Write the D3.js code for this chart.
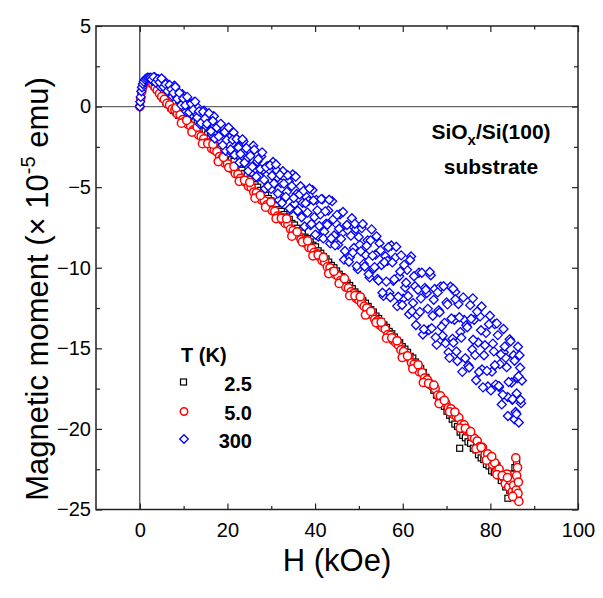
<!DOCTYPE html>
<html>
<head>
<meta charset="utf-8">
<title>SiOx/Si(100) substrate M-H</title>
<script src="https://cdn.jsdelivr.net/npm/d3@7"></script>
<style>
  html, body { margin: 0; padding: 0; background: #fff; overflow: hidden; }
  svg { display: block; }
  text { font-family: 'Liberation Sans', Arial, sans-serif; fill: #000; }
</style>
</head>
<body>
<svg width="603" height="598" id="mainsvg"></svg>
<script>
// tick labels
const xTicks = [0, 20, 40, 60, 80, 100];
const xMinor = [10, 30, 50, 70, 90];
const yTicks = [-25, -20, -15, -10, -5, 0, 5];
const yMinor = [-22.5, -17.5, -12.5, -7.5, -2.5, 2.5];
const temps = ['2.5', '5.0', '300'];

// T = 2.5 K  [H (kOe), M (1e-5 emu)]
const t25 = [
  [0.1,0.2],[0.3,0.75],[0.5,1.05],[0.8,1.3],[1.1,1.5],[1.4,1.58],[1.8,1.6],[2.3,1.52],[2.8,1.42],[3.3,1.25],
  [3.8,1.05],[4.3,0.88],[4.8,0.68],[5.3,0.5],[5.9,0.3],[6.5,0.12],[7.1,-0.08],[7.7,-0.25],[8.3,-0.38],[8.9,-0.55],
  [9.5,-0.7],[10.1,-0.85],[10.7,-0.95],[11.3,-1.05],[11.9,-1.0],[12.5,-0.9],[13.1,-1.0],[13.7,-1.2],[14.3,-1.35],[14.9,-1.5],
  [15.5,-1.7],[16.1,-1.85],[16.7,-2.05],[17.3,-2.2],[17.9,-2.35],[18.5,-2.55],[19.1,-2.7],[19.7,-2.95],[20.3,-3.05],[20.9,-3.3],
  [21.5,-3.4],[22.1,-3.65],[22.7,-3.8],[23.3,-3.95],[23.9,-4.15],[24.5,-4.3],[25.1,-4.5],[25.7,-4.65],[26.3,-4.85],[26.9,-5.0],
  [27.5,-5.2],[28.1,-5.35],[28.7,-5.5],[29.3,-5.7],[29.9,-5.85],[30.5,-6.05],[31.1,-6.15],[31.7,-6.4],[32.3,-6.5],[32.9,-6.7],
  [33.5,-6.85],[34.1,-7.0],[34.7,-7.25],[35.3,-7.35],[35.9,-7.55],[36.5,-7.7],[37.1,-7.85],[37.7,-8.1],[38.3,-8.2],[38.9,-8.4],
  [39.5,-8.6],[40.1,-8.7],[40.7,-8.95],[41.3,-9.1],[41.9,-9.3],[42.5,-9.45],[43.1,-9.65],[43.7,-9.85],[44.3,-10.0],[44.9,-10.2],
  [45.5,-10.4],[46.1,-10.55],[46.7,-10.75],[47.3,-10.95],[47.9,-11.1],[48.5,-11.3],[49.1,-11.5],[49.7,-11.65],[50.3,-11.85],[50.9,-12.05],
  [51.5,-12.2],[52.1,-12.4],[52.7,-12.6],[53.3,-12.75],[53.9,-13.0],[54.5,-13.15],[55.1,-13.35],[55.7,-13.55],[56.3,-13.7],[56.9,-13.95],
  [57.5,-14.1],[58.1,-14.3],[58.7,-14.5],[59.3,-14.65],[59.9,-14.9],[60.5,-15.05],[61.1,-15.25],[61.7,-15.5],[62.3,-15.6],[62.9,-15.85],
  [63.5,-16.05],[64.1,-16.25],[64.7,-16.5],[65.3,-16.8],[65.9,-17.1],[66.5,-17.3],[67.1,-17.6],[67.7,-17.9],[68.3,-18.1],[68.9,-18.35],
  [69.5,-18.6],[70.1,-18.9],[70.7,-19.15],[71.3,-19.4],[71.9,-19.7],[72.5,-19.85],[73.1,-20.2],[73.0,-21.2],[73.7,-20.4],[74.3,-20.55],
  [74.9,-20.8],[75.5,-20.9],[76.1,-21.2],[76.7,-21.3],[77.3,-21.6],[77.9,-21.8],[78.5,-21.9],[79.1,-22.2],[79.7,-22.3],[80.3,-22.6],
  [80.9,-22.7],[81.5,-22.3],[82.0,-22.9],[82.5,-23.2],[83.0,-23.0],[83.5,-23.6],[84.0,-24.3],[84.4,-23.8],[84.8,-23.4],[85.2,-22.8],
  [85.6,-22.4],[86.0,-22.1],[85.4,-23.1]
];

// T = 5.0 K
const t50 = [
  [0.0,0.0],[0.2,0.5],[0.4,0.9],[0.6,1.15],[0.9,1.4],[1.2,1.55],[1.6,1.62],[2.0,1.58],[2.5,1.5],[3.0,1.38],
  [3.5,1.2],[4.0,1.02],[4.5,0.8],[5.0,0.62],[5.6,0.45],[6.2,0.2],[6.8,0.1],[7.4,-0.15],[8.0,-0.2],[8.6,-0.45],
  [9.2,-0.5],[9.8,-0.8],[10.4,-0.9],[11.0,-1.1],[11.6,-1.2],[12.2,-1.45],[12.8,-1.5],[13.4,-1.75],[14.0,-1.85],[14.6,-2.0],
  [15.2,-2.25],[15.8,-2.3],[16.4,-2.6],[17.0,-2.7],[17.6,-2.8],[18.2,-3.1],[18.8,-3.2],[19.4,-3.5],[20.0,-3.55],[20.6,-3.8],
  [21.2,-3.9],[21.8,-4.15],[22.4,-4.2],[23.0,-4.45],[23.6,-4.6],[24.2,-4.7],[24.8,-4.95],[25.4,-5.0],[26.0,-5.3],[26.6,-5.35],
  [27.2,-5.6],[27.8,-5.8],[28.4,-5.85],[29.0,-6.1],[29.6,-6.15],[30.2,-6.45],[30.8,-6.5],[31.4,-6.8],[32.0,-6.85],[32.6,-7.05],
  [33.2,-7.25],[33.8,-7.3],[34.4,-7.6],[35.0,-7.7],[35.6,-7.9],[36.2,-8.0],[36.8,-8.25],[37.4,-8.35],[38.0,-8.5],[38.6,-8.75],
  [39.2,-8.8],[39.8,-9.05],[40.4,-9.15],[41.0,-9.3],[41.6,-9.55],[42.2,-9.65],[42.8,-9.95],[43.4,-10.0],[44.0,-10.25],[44.6,-10.4],
  [45.2,-10.5],[45.8,-10.8],[46.4,-10.85],[47.0,-11.2],[47.6,-11.25],[48.2,-11.5],[48.8,-11.6],[49.4,-11.9],[50.0,-12.0],[50.6,-12.2],
  [51.2,-12.4],[51.8,-12.5],[52.4,-12.85],[53.0,-12.9],[53.6,-13.2],[54.2,-13.3],[54.8,-13.55],[55.4,-13.7],[56.0,-13.8],[56.6,-14.15],
  [57.2,-14.2],[57.8,-14.5],[58.4,-14.65],[59.0,-14.8],[59.6,-15.1],[60.2,-15.2],[60.8,-15.5],[61.4,-15.55],[62.0,-15.9],[62.6,-16.0],
  [63.2,-16.2],[63.8,-16.45],[64.4,-16.5],[65.0,-16.85],[65.6,-16.95],[66.2,-17.2],[66.8,-17.35],[67.4,-17.5],[68.0,-17.9],[68.6,-17.95],
  [69.2,-18.3],[69.8,-18.4],[70.4,-18.7],[71.0,-18.75],[71.6,-19.1],[72.2,-19.2],[72.8,-19.3],[73.4,-19.7],[74.0,-19.75],[74.6,-20.1],
  [75.2,-20.15],[75.8,-20.5],[76.4,-20.6],[77.0,-20.75],[77.6,-21.1],[78.2,-21.15],[78.8,-21.6],[79.4,-21.55],[80.0,-21.9],[80.5,-22.2],
  [81.0,-22.1],[81.5,-22.6],[82.0,-22.5],[82.5,-22.9],[83.0,-23.0],[83.4,-23.4],[83.8,-22.8],[84.2,-23.6],[84.6,-23.2],[85.0,-23.9],
  [85.3,-23.5],[85.6,-24.1],[85.9,-23.8],[86.1,-24.3],[86.3,-24.0],[86.5,-24.5],[85.8,-21.8],[86.2,-22.4],[86.0,-22.9],[86.4,-23.3],
  [8.3,-0.08],[9.5,-1.03],[10.7,-0.85],[11.9,-1.58],[13.1,-1.27],[14.3,-2.3],[15.5,-2.29],[16.7,-2.33],[17.9,-3.41],[19.1,-3.15],
  [20.3,-3.78],[21.5,-3.71],[22.7,-4.64],[23.9,-4.57],[25.1,-4.7],[26.3,-5.68],[27.5,-5.51],[28.7,-6.24],[29.9,-5.92],[31.1,-6.95],
  [32.3,-6.93],[33.5,-6.96],[34.7,-8.04],[35.9,-7.77],[37.1,-8.4],[38.3,-8.33],[39.5,-9.26],[40.7,-9.21],[41.9,-9.36],[43.1,-10.36],
  [44.3,-10.22],[45.5,-10.97],[46.7,-10.68],[47.9,-11.73],[49.1,-11.73],[50.3,-11.8],[51.5,-12.93],[52.7,-12.71],[53.9,-13.4],[55.1,-13.38],
  [56.3,-14.37],[57.5,-14.35],[58.7,-14.53],[59.9,-15.57],[61.1,-15.47],[62.3,-16.27],[63.5,-16.02],[64.7,-17.12],[65.9,-17.18],[67.1,-17.28],
  [68.3,-18.43],[69.5,-18.23],[70.7,-18.94],[71.9,-18.95],[73.1,-19.95],[74.3,-19.96],[75.5,-20.17],[76.7,-21.23],[77.9,-21.14],[79.1,-21.94],
  [80.3,-21.71],[81.5,-22.83],[82.7,-22.9],[83.9,-23.02],[85.1,-24.19]
];

// T = 300 K
const t300 = [
  [0.0,0.0],[0.1,0.3],[0.2,0.6],[0.35,0.95],[0.5,1.2],[0.7,1.4],[0.9,1.55],[1.2,1.68],[1.5,1.75],[1.8,1.8],[2.1,1.78],
  [2.5,1.79],[2.95,1.59],[3.4,1.83],[3.85,1.57],[4.3,1.70],[4.75,1.22],[5.2,1.42],[5.65,1.57],[6.1,1.06],[6.55,1.10],
  [7.0,1.24],[7.45,0.64],[7.9,1.29],[8.35,0.61],[8.8,0.74],[9.25,0.26],[9.7,0.77],[10.15,0.31],[10.6,-0.31],[11.05,0.31],
  [11.5,0.15],[11.95,-0.51],[12.4,0.28],[12.85,-0.45],[13.3,-0.08],[13.75,-1.10],[14.2,-0.60],[14.65,-0.26],[15.1,-1.20],[15.55,-1.05],
  [16.0,-0.75],[16.45,-1.75],[16.9,-0.60],[17.35,-1.66],[17.8,-1.37],[18.25,-2.08],[18.7,-1.21],[19.15,-1.85],[19.6,-2.74],[20.05,-1.74],
  [20.5,-1.93],[20.95,-2.85],[21.4,-1.61],[21.85,-2.65],[22.3,-2.06],[22.75,-3.47],[23.2,-2.70],[23.65,-2.16],[24.1,-3.45],[24.55,-3.19],
  [25.0,-2.73],[25.45,-4.07],[25.9,-2.43],[26.35,-3.86],[26.8,-3.41],[27.25,-4.33],[27.7,-3.10],[28.15,-3.92],[28.6,-5.09],[29.05,-3.70],
  [29.5,-3.91],[29.95,-5.11],[30.4,-3.44],[30.85,-4.78],[31.3,-3.96],[31.75,-5.80],[32.2,-4.74],[32.65,-4.01],[33.1,-5.67],[33.55,-5.29],
  [34.0,-4.65],[34.45,-6.38],[34.9,-4.21],[35.35,-6.03],[35.8,-5.42],[36.25,-6.57],[36.7,-4.94],[37.15,-5.97],[37.6,-7.44],[38.05,-5.62],
  [38.5,-5.85],[38.95,-7.36],[39.4,-5.18],[39.85,-6.86],[40.3,-5.79],[40.75,-8.06],[41.2,-6.69],[41.65,-5.75],[42.1,-7.76],[42.55,-7.26],
  [43.0,-6.45],[43.45,-8.49],[43.9,-5.87],[44.35,-8.00],[44.8,-7.26],[45.25,-8.57],[45.7,-6.68],[46.15,-7.85],[46.6,-9.50],[47.05,-7.43],
  [47.5,-7.68],[47.95,-9.35],[48.4,-6.93],[48.85,-8.77],[49.3,-7.60],[49.75,-10.09],[50.2,-8.58],[50.65,-7.54],[51.1,-9.76],[51.55,-9.21],
  [52.0,-8.30],[52.45,-10.60],[52.9,-7.62],[53.35,-10.05],[53.8,-9.19],[54.25,-10.70],[54.7,-8.48],[55.15,-9.83],[55.6,-11.75],[56.05,-9.29],
  [56.5,-9.57],[56.95,-11.55],[57.4,-8.62],[57.85,-10.81],[58.3,-9.37],[58.75,-12.38],[59.2,-10.53],[59.65,-9.23],[60.1,-11.92],[60.55,-11.23],
  [61.0,-10.13],[61.45,-12.88],[61.9,-9.30],[62.35,-12.19],[62.8,-11.15],[63.25,-12.94],[63.7,-10.31],[64.15,-11.90],[64.6,-14.14],[65.05,-11.25],
  [65.5,-11.57],[65.95,-13.86],[66.4,-10.47],[66.85,-12.98],[67.3,-11.32],[67.75,-14.77],[68.2,-12.64],[68.65,-11.17],[69.1,-14.22],[69.55,-13.42],
  [70.0,-12.15],[70.45,-15.25],[70.9,-11.18],[71.35,-14.41],[71.8,-13.23],[72.25,-15.20],[72.7,-12.25],[73.15,-13.99],[73.6,-16.46],[74.05,-13.24],
  [74.5,-13.57],[74.95,-16.07],[75.4,-12.32],[75.85,-15.07],[76.3,-13.23],[76.75,-16.98],[77.2,-14.64],[77.65,-13.02],[78.1,-16.31],[78.55,-15.43],
  [79.0,-14.04],[79.45,-17.37],[79.9,-12.98],[80.35,-16.45],[80.8,-15.19],[81.25,-17.25],[81.7,-14.18],[82.15,-15.98],[82.6,-18.48],[83.05,-15.24],
  [83.5,-15.59],[83.95,-18.02],[84.4,-14.44],[84.85,-17.12],[85.3,-15.43],[85.75,-18.95],[86.2,-16.84],[86.65,-15.43],[87.0,-18.4],
  [85.5,-19.4],[86.5,-19.6],[86.0,-17.8],[86.8,-16.2],[85.0,-18.2],[84.0,-19.2],[86.3,-14.9],[87.2,-17.0],[82.0,-17.4],[83.0,-13.8],
  [81.0,-13.5],[78.0,-12.4],[76.0,-11.9],[72.0,-11.5],[71.5,-11.3],
  [2.72,1.69],[3.17,1.83],[3.62,1.50],[4.07,1.69],[4.52,1.51],[4.97,1.74],[5.42,1.21],[5.87,1.39],[6.32,0.97],[6.77,1.34],
  [7.22,1.07],[7.67,0.84],[8.12,1.22],[8.57,0.48],[9.02,0.85],[9.47,0.09],[9.92,0.50],[10.37,0.08],[10.82,0.60],[11.27,-0.35],
  [11.72,0.18],[12.17,-0.20],[12.62,0.31],[13.07,-0.68],[13.52,-0.29],[13.97,-1.01],[14.42,-0.32],[14.87,-0.74],[15.32,-1.07],[15.77,-0.41],
  [16.22,-1.53],[16.67,-0.89],[17.12,-1.98],[17.57,-1.30],[18.02,-1.85],[18.47,-1.07],[18.92,-2.39],[19.37,-1.58],[19.82,-2.07],[20.27,-1.30],
  [20.72,-2.66],[21.17,-2.06],[21.62,-3.00],[22.07,-2.01],[22.52,-2.54],[22.97,-2.94],[23.42,-2.03],[23.87,-3.48],[24.32,-2.58],[24.77,-3.99],
  [25.22,-3.06],[25.67,-3.73],[26.12,-2.68],[26.57,-4.35],[27.02,-3.26],[27.47,-3.87],[27.92,-2.84],[28.37,-4.55],[28.82,-3.77],[29.27,-4.93],
  [29.72,-3.64],[30.17,-4.29],[30.62,-4.77],[31.07,-3.59],[31.52,-5.39],[31.97,-4.23],[32.42,-5.98],[32.87,-4.78],[33.32,-5.60],[33.77,-4.26],
  [34.22,-6.32],[34.67,-4.93],[35.12,-5.67],[35.57,-4.35],[36.02,-6.46],[36.47,-5.45],[36.92,-6.87],[37.37,-5.23],[37.82,-6.00],[38.27,-6.58],
  [38.72,-5.08],[39.17,-7.29],[39.62,-5.83],[40.07,-7.94],[40.52,-6.44],[40.97,-7.41],[41.42,-5.74],[41.87,-8.18],[42.32,-6.50],[42.77,-7.33],
  [43.22,-5.78],[43.67,-8.19],[44.12,-7.00],[44.57,-8.61],[45.02,-6.72],[45.47,-7.58],[45.92,-8.21],[46.37,-6.54],[46.82,-8.96],[47.27,-7.35],
  [47.72,-9.63],[48.17,-8.01],[48.62,-9.06],[49.07,-7.27],[49.52,-9.90],[49.97,-8.09],[50.42,-8.98],[50.87,-7.29],[51.32,-9.92],[51.77,-8.63],
  [52.22,-10.40],[52.67,-8.30],[53.12,-9.25],[53.57,-9.96],[54.02,-8.05],[54.47,-10.79],[54.92,-8.92],[55.37,-11.55],[55.82,-9.66],[56.27,-10.86],
  [56.72,-8.73],[57.17,-11.83],[57.62,-9.67],[58.07,-10.72],[58.52,-8.70],[58.97,-11.80],[59.42,-10.23],[59.87,-12.31],[60.32,-9.82],[60.77,-10.93],
  [61.22,-11.75],[61.67,-9.52],[62.12,-12.70],[62.57,-10.53],[63.02,-13.55],[63.47,-11.37],[63.92,-12.74],[64.37,-10.31],[64.82,-13.82],[65.27,-11.36],
  [65.72,-12.55],[66.17,-10.26],[66.62,-13.75],[67.07,-11.99],[67.52,-14.32],[67.97,-11.53],[68.42,-12.76],[68.87,-13.66],[69.32,-11.15],[69.77,-14.68],
  [70.22,-12.27],[70.67,-15.59],[71.12,-13.15],[71.57,-14.65],[72.02,-11.95],[72.47,-15.79],[72.92,-13.07],[73.37,-14.34],[73.82,-11.84],[74.27,-15.62],
  [74.72,-13.69],[75.17,-16.19],[75.62,-13.16],[76.07,-14.47],[76.52,-15.42],[76.97,-12.72],[77.42,-16.47],[77.87,-13.88],[78.32,-17.42],[78.77,-14.81],
  [79.22,-16.40],[79.67,-13.51],[80.12,-17.61],[80.57,-14.71],[81.02,-16.05],[81.47,-13.45],[81.92,-17.34],[82.37,-15.38],[82.82,-17.88],[83.27,-14.89],
  [83.72,-16.17],[84.17,-17.09],[84.62,-14.56],[85.07,-18.15],[85.52,-15.77],[85.97,-19.07],[86.42,-16.73],[86.87,-18.19]
];

const svg = d3.select('#mainsvg');
const margin = { top: 26, right: 25, bottom: 88.5, left: 96 };
const width = +svg.attr('width');
const height = +svg.attr('height');
const innerWidth = width - margin.left - margin.right;
const innerHeight = height - margin.top - margin.bottom;

svg.append('rect').attr('width', width).attr('height', height).attr('fill', '#fff');

const g = svg.append('g')
  .attr('transform', `translate(${margin.left}, ${margin.top})`);

const xScale = d3.scaleLinear().domain([-10, 100]).range([0, innerWidth]);
const yScale = d3.scaleLinear().domain([-25, 5]).range([innerHeight, 0]);

// reference lines at H = 0 and M = 0
g.append('line')
  .attr('x1', 0).attr('x2', innerWidth)
  .attr('y1', yScale(0)).attr('y2', yScale(0))
  .attr('stroke', '#666').attr('stroke-width', 1.3);
g.append('line')
  .attr('x1', xScale(0)).attr('x2', xScale(0))
  .attr('y1', 0).attr('y2', innerHeight)
  .attr('stroke', '#111').attr('stroke-width', 1);

// markers
const sq = 6, dia = 4.5;
g.append('g').selectAll('rect').data(t25).join('rect')
  .attr('x', d => xScale(d[0]) - sq / 2)
  .attr('y', d => yScale(d[1]) - sq / 2)
  .attr('width', sq).attr('height', sq)
  .attr('fill', '#fff').attr('stroke', '#000').attr('stroke-width', 1.2);

g.append('g').selectAll('circle').data(t50).join('circle')
  .attr('cx', d => xScale(d[0]))
  .attr('cy', d => yScale(d[1]))
  .attr('r', 4.1)
  .attr('fill', '#fff').attr('stroke', '#ff0000').attr('stroke-width', 1.5);

const diamond = (cx, cy, r) => `M${cx},${cy - r}L${cx + r},${cy}L${cx},${cy + r}L${cx - r},${cy}Z`;
g.append('g').selectAll('path').data(t300).join('path')
  .attr('d', d => diamond(xScale(d[0]), yScale(d[1]), dia))
  .attr('fill', '#fff').attr('stroke', '#0000ff').attr('stroke-width', 1.3);

// axes, ticks inward on all sides
const styleAxis = sel => {
  sel.select('.domain').remove();
  sel.selectAll('.tick line').attr('stroke', '#222').attr('stroke-width', 1.2);
  sel.selectAll('.tick text').filter(function () { return this.textContent === ''; }).remove();
  sel.selectAll('.tick text').attr('font-size', '20px')
    .attr('font-family', "'Liberation Sans', Arial, sans-serif").attr('fill', '#000');
};

g.append('g').attr('transform', `translate(0,${innerHeight})`)
  .call(d3.axisBottom(xScale).tickValues(xTicks).tickSizeInner(-6).tickSizeOuter(0).tickPadding(13))
  .call(styleAxis);
g.append('g').attr('transform', `translate(0,${innerHeight})`)
  .call(d3.axisBottom(xScale).tickValues(xMinor).tickSizeInner(-3.5).tickSizeOuter(0).tickFormat(''))
  .call(styleAxis);
g.append('g')
  .call(d3.axisTop(xScale).tickValues(xTicks).tickSizeInner(-6).tickSizeOuter(0).tickFormat(''))
  .call(styleAxis);
g.append('g')
  .call(d3.axisTop(xScale).tickValues(xMinor).tickSizeInner(-3.5).tickSizeOuter(0).tickFormat(''))
  .call(styleAxis);

g.append('g')
  .call(d3.axisLeft(yScale).tickValues(yTicks).tickSizeInner(-6).tickSizeOuter(0).tickPadding(5))
  .call(styleAxis);
g.append('g')
  .call(d3.axisLeft(yScale).tickValues(yMinor).tickSizeInner(-4).tickSizeOuter(0).tickFormat(''))
  .call(styleAxis);
g.append('g').attr('transform', `translate(${innerWidth},0)`)
  .call(d3.axisRight(yScale).tickValues(yTicks).tickSizeInner(-6).tickSizeOuter(0).tickFormat(''))
  .call(styleAxis);
g.append('g').attr('transform', `translate(${innerWidth},0)`)
  .call(d3.axisRight(yScale).tickValues(yMinor).tickSizeInner(-4).tickSizeOuter(0).tickFormat(''))
  .call(styleAxis);

// frame
g.append('rect')
  .attr('width', innerWidth).attr('height', innerHeight)
  .attr('fill', 'none').attr('stroke', '#222').attr('stroke-width', 1.5);

// axis titles
svg.append('text')
  .attr('x', margin.left + innerWidth / 2).attr('y', 571)
  .attr('text-anchor', 'middle').attr('font-size', '31px')
  .text('H (kOe)');

const yLab = svg.append('text')
  .attr('transform', 'translate(48,289) rotate(-90)')
  .attr('text-anchor', 'middle').attr('font-size', '31px');
yLab.append('tspan').text('Magnetic moment (× 10');
yLab.append('tspan').attr('font-size', '20px').attr('dy', -13).text('-5');
yLab.append('tspan').attr('dy', 13).text(' emu)');

// sample annotation
const ann = svg.append('text')
  .attr('x', 491).attr('y', 139)
  .attr('text-anchor', 'middle').attr('font-size', '21px').attr('font-weight', 'bold');
ann.append('tspan').text('SiO');
ann.append('tspan').attr('font-size', '15px').attr('dy', 6).text('x');
ann.append('tspan').attr('dy', -6).text('/Si(100)');
svg.append('text')
  .attr('x', 491).attr('y', 174)
  .attr('text-anchor', 'middle').attr('font-size', '21px').attr('font-weight', 'bold')
  .text('substrate');

// legend
const leg = svg.append('g');
leg.append('text').attr('x', 181).attr('y', 362)
  .attr('font-size', '20px').attr('font-weight', 'bold').text('T (K)');
const legY = [382, 411.5, 439];
leg.append('rect').attr('x', 183.5 - 3).attr('y', legY[0] - 3).attr('width', 6).attr('height', 6)
  .attr('fill', '#fff').attr('stroke', '#000').attr('stroke-width', 1.2);
leg.append('circle').attr('cx', 184).attr('cy', legY[1]).attr('r', 3.7)
  .attr('fill', '#fff').attr('stroke', '#ff0000').attr('stroke-width', 1.5);
leg.append('path').attr('d', diamond(184, legY[2], 4.3))
  .attr('fill', '#fff').attr('stroke', '#0000ff').attr('stroke-width', 1.3);
leg.selectAll('text.lab').data(temps).join('text').attr('class', 'lab')
  .attr('x', 252).attr('y', (d, i) => legY[i] + 8.5)
  .attr('text-anchor', 'end').attr('font-size', '20px').attr('font-weight', 'bold')
  .text(d => d);
</script>
</body>
</html>
